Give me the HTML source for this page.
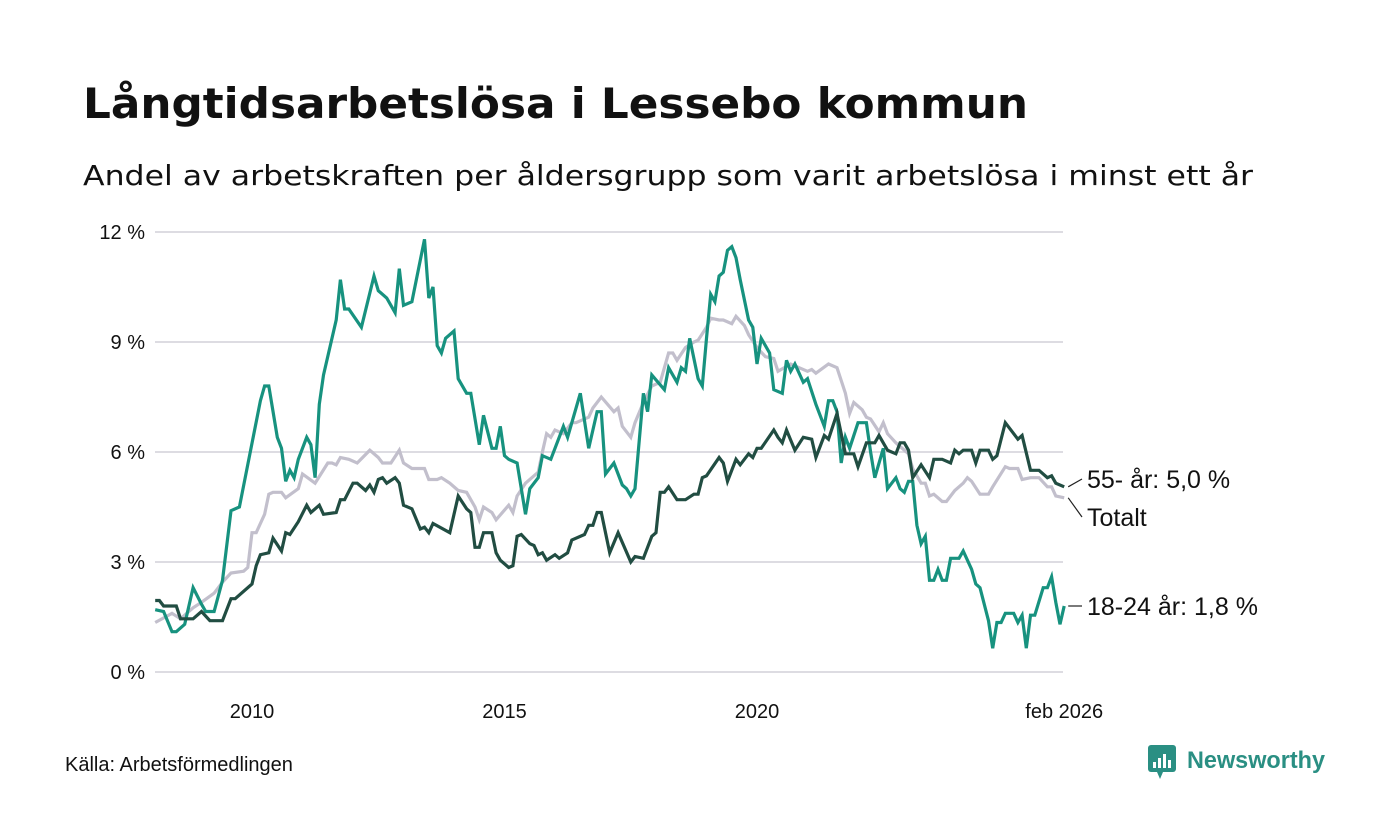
<!DOCTYPE html>
<html><head><meta charset="utf-8">
<style>
html,body{margin:0;padding:0;background:#fff;}
svg{display:block;font-family:"Liberation Sans",sans-serif;}
</style></head>
<body>
<svg id="chart" width="1400" height="840" viewBox="0 0 1400 840" xmlns="http://www.w3.org/2000/svg">
<rect width="1400" height="840" fill="#fff"/>
<text x="83" y="118" font-size="42" font-weight="bold" fill="#111" font-family="'DejaVu Sans',sans-serif" textLength="945" lengthAdjust="spacingAndGlyphs">Långtidsarbetslösa i Lessebo kommun</text>
<text x="83" y="185" font-size="28" fill="#111" font-family="'DejaVu Sans',sans-serif" textLength="1170" lengthAdjust="spacingAndGlyphs">Andel av arbetskraften per åldersgrupp som varit arbetslösa i minst ett år</text>
<g id="grid"></g>
<g id="series"></g>
<g id="labels"></g>
<text x="65" y="771" font-size="20" fill="#111">Källa: Arbetsförmedlingen</text>
<g>
<rect x="1148" y="745" width="28" height="27" rx="3" fill="#2a8f83"/>
<polygon points="1157,772 1163,772 1160,779" fill="#2a8f83"/>
<rect x="1153" y="762" width="3" height="6" fill="#fff"/>
<rect x="1158" y="758" width="3" height="10" fill="#fff"/>
<rect x="1163" y="754" width="3" height="14" fill="#fff"/>
<rect x="1168" y="760" width="3" height="8" fill="#fff"/>
<text x="1187" y="768" font-size="24" font-weight="bold" fill="#2a8f83" textLength="138" lengthAdjust="spacingAndGlyphs">Newsworthy</text>
</g>
</svg>
<script>
// months since Jan 2008
const yTicks = [0, 3, 6, 9, 12];
const yTickLabels = ["0 %", "3 %", "6 %", "9 %", "12 %"];
const xTickMonths = [24, 84, 144, 217];
const xTickLabels = ["2010", "2015", "2020", "feb 2026"];

const totalMonths = [1,5,7,10,12,15,17,19,22,23,24,25,27,28,29,31,32,35,36,39,42,43,44,45,47,49,52,54,55,57,59,60,62,65,66,68,69,71,73,75,77,78,79,81,82,85,86,87,89,92,93,94,95,96,98,100,101,104,105,107,110,111,112,114,115,117,119,121,123,124,125,127,129,130,132,133,135,136,138,139,141,142,144,146,148,149,152,154,156,157,158,161,163,165,166,167,169,170,171,173,174,175,177,178,180,181,183,184,185,186,188,189,191,193,194,195,197,199,200,203,204,206,207,209,211,213,214,215,217];
const totalValues = [1.35,1.6,1.45,1.75,1.9,2.15,2.45,2.7,2.75,2.85,3.8,3.8,4.3,4.85,4.9,4.9,4.75,5.0,5.4,5.15,5.7,5.7,5.65,5.85,5.8,5.7,6.05,5.85,5.7,5.7,6.05,5.7,5.55,5.55,5.25,5.25,5.3,5.15,4.95,4.9,4.5,4.15,4.5,4.35,4.15,4.55,4.35,4.8,5.15,5.45,6.0,6.5,6.4,6.6,6.5,6.8,6.8,6.95,7.2,7.5,7.1,7.2,6.7,6.4,6.8,7.35,7.8,7.9,8.7,8.7,8.5,8.85,9.0,9.05,9.4,9.65,9.6,9.6,9.5,9.7,9.45,9.2,8.85,8.6,8.55,8.2,8.4,8.3,8.2,8.25,8.15,8.4,8.3,7.6,7.05,7.35,7.15,6.95,6.9,6.55,6.8,6.5,6.25,6.15,5.95,5.55,5.15,5.15,4.8,4.85,4.65,4.65,4.95,5.15,5.3,5.2,4.85,4.85,5.05,5.6,5.55,5.55,5.25,5.3,5.3,5.05,5.05,4.8,4.75];

const youngMonths = [1,3,5,6,8,10,12,13,15,17,19,21,26,27,28,30,31,32,33,34,35,37,38,39,40,41,44,45,46,47,50,53,54,56,58,59,60,62,65,66,67,68,69,70,72,73,75,76,78,79,81,82,83,84,85,87,89,90,92,93,95,97,98,99,102,104,106,107,108,110,112,113,114,115,117,118,119,122,123,125,126,127,128,130,131,132,133,134,135,136,137,138,139,140,142,143,144,145,147,148,150,151,152,153,155,156,158,160,161,162,163,164,165,166,168,170,171,172,174,175,177,178,179,180,181,182,183,184,185,186,187,188,189,190,192,193,195,196,197,199,200,201,202,203,205,206,207,208,209,210,212,213,214,215,216,217];
const youngValues = [1.7,1.65,1.1,1.1,1.3,2.3,1.85,1.65,1.65,2.5,4.4,4.5,7.4,7.8,7.8,6.4,6.1,5.2,5.5,5.3,5.8,6.4,6.2,5.3,7.3,8.1,9.6,10.7,9.9,9.9,9.4,10.8,10.4,10.2,9.8,11.0,10.0,10.1,11.8,10.2,10.5,8.9,8.7,9.1,9.3,8.0,7.6,7.6,6.2,7.0,6.1,6.1,6.7,5.9,5.8,5.7,4.3,5.0,5.3,5.9,5.8,6.4,6.7,6.4,7.6,6.1,7.1,7.1,5.4,5.7,5.1,5.0,4.8,5.0,7.6,7.1,8.1,7.7,8.3,7.9,8.3,8.2,9.1,8.0,7.8,9.1,10.3,10.1,10.8,10.9,11.5,11.6,11.3,10.7,9.6,9.4,8.4,9.1,8.7,7.7,7.6,8.5,8.2,8.4,7.9,8.0,7.3,6.7,7.4,7.4,7.1,5.7,6.4,6.1,6.8,6.8,6.0,5.3,6.1,5.0,5.3,5.0,4.9,5.2,5.2,4.0,3.5,3.7,2.5,2.5,2.8,2.5,2.5,3.1,3.1,3.3,2.8,2.4,2.3,1.4,0.65,1.35,1.35,1.6,1.6,1.35,1.55,0.65,1.55,1.55,2.3,2.3,2.6,1.9,1.3,1.8];

const olderMonths = [1,2,3,6,7,10,12,14,17,19,20,24,25,26,28,29,31,32,33,35,37,38,40,41,44,45,46,48,49,51,52,53,54,55,56,58,59,60,62,64,65,66,67,71,73,75,76,77,78,79,81,82,83,85,86,87,88,90,91,92,93,94,96,97,99,100,103,104,105,106,107,109,111,114,115,117,119,120,121,122,123,125,127,129,130,131,132,135,136,137,139,140,142,143,144,145,148,149,150,151,153,155,157,158,160,161,163,165,167,168,170,172,173,175,177,178,179,180,181,183,185,186,188,190,191,192,193,195,196,197,199,200,201,203,206,207,209,211,213,214,215,217];
const olderValues = [1.95,1.95,1.8,1.8,1.45,1.45,1.65,1.4,1.4,2.0,2.0,2.4,2.9,3.2,3.25,3.65,3.3,3.8,3.75,4.1,4.55,4.35,4.55,4.3,4.35,4.7,4.7,5.15,5.15,4.95,5.1,4.9,5.25,5.3,5.15,5.3,5.15,4.55,4.45,3.9,3.95,3.8,4.05,3.8,4.8,4.45,4.35,3.4,3.4,3.8,3.8,3.25,3.05,2.85,2.9,3.7,3.75,3.5,3.45,3.2,3.25,3.05,3.2,3.1,3.25,3.6,3.75,4.0,4.0,4.35,4.35,3.25,3.8,3.0,3.15,3.1,3.7,3.8,4.9,4.9,5.05,4.7,4.7,4.85,4.85,5.3,5.35,5.85,5.7,5.2,5.8,5.65,5.95,5.85,6.1,6.1,6.6,6.4,6.25,6.6,6.05,6.4,6.35,5.85,6.45,6.35,7.05,5.95,5.95,5.6,6.25,6.25,6.45,6.05,5.95,6.25,6.25,6.05,5.3,5.65,5.3,5.8,5.8,5.7,6.05,5.95,6.05,6.05,5.7,6.05,6.05,5.8,5.9,6.8,6.35,6.45,5.5,5.5,5.3,5.35,5.15,5.05];

const NS = "http://www.w3.org/2000/svg";
const x = m => 151 + m * (50.5 / 12);
const y = v => 672 - v * (440 / 12);

const grid = document.getElementById("grid");
yTicks.forEach((t, i) => {
  const l = document.createElementNS(NS, "line");
  l.setAttribute("x1", 155); l.setAttribute("x2", 1063);
  l.setAttribute("y1", y(t)); l.setAttribute("y2", y(t));
  l.setAttribute("stroke", "#dddce2"); l.setAttribute("stroke-width", "2");
  
  
  grid.appendChild(l);
  const tx = document.createElementNS(NS, "text");
  tx.setAttribute("x", 145); tx.setAttribute("y", y(t) + 7);
  tx.setAttribute("text-anchor", "end"); tx.setAttribute("font-size", "20"); tx.setAttribute("fill", "#111");
  tx.textContent = yTickLabels[i];
  
  
  grid.appendChild(tx);
});
xTickMonths.forEach((m, i) => {
  const tx = document.createElementNS(NS, "text");
  tx.setAttribute("x", x(m)); tx.setAttribute("y", 718);
  tx.setAttribute("text-anchor", "middle"); tx.setAttribute("font-size", "20"); tx.setAttribute("fill", "#111");
  tx.textContent = xTickLabels[i];
  
  
  grid.appendChild(tx);
});

const ser = document.getElementById("series");
function drawLine(ms, vs, color, name) {
  const p = document.createElementNS(NS, "path");
  p.setAttribute("d", ms.map((m, i) => (i ? "L" : "M") + x(m).toFixed(1) + "," + y(vs[i]).toFixed(1)).join(""));
  p.setAttribute("fill", "none"); p.setAttribute("stroke", color);
  p.setAttribute("stroke-width", "3.2"); p.setAttribute("stroke-linejoin", "miter");
  
  
  ser.appendChild(p);
}
drawLine(totalMonths, totalValues, "#c2bfcc", "line-totalt");
drawLine(youngMonths, youngValues, "#17927f", "line-18-24");
drawLine(olderMonths, olderValues, "#214d42", "line-55-plus");

const lab = document.getElementById("labels");
function endLabel(ms, vs, ty, text, name) {
  const lx = x(ms[ms.length - 1]), ly = y(vs[vs.length - 1]);
  const l = document.createElementNS(NS, "line");
  l.setAttribute("x1", lx + 4); l.setAttribute("y1", ly);
  l.setAttribute("x2", 1082); l.setAttribute("y2", ty);
  l.setAttribute("stroke", "#222"); l.setAttribute("stroke-width", "1.2");
  
  
  lab.appendChild(l);
  const t = document.createElementNS(NS, "text");
  t.setAttribute("x", 1087); t.setAttribute("y", ty + 9);
  t.setAttribute("font-size", "25"); t.setAttribute("fill", "#111");
  t.textContent = text;
  
  
  lab.appendChild(t);
}
endLabel(olderMonths, olderValues, 479, "55- år: 5,0 %", "label-55-plus");
endLabel(totalMonths, totalValues, 517, "Totalt", "label-totalt");
endLabel(youngMonths, youngValues, 606, "18-24 år: 1,8 %", "label-18-24");
</script>
</body></html>
